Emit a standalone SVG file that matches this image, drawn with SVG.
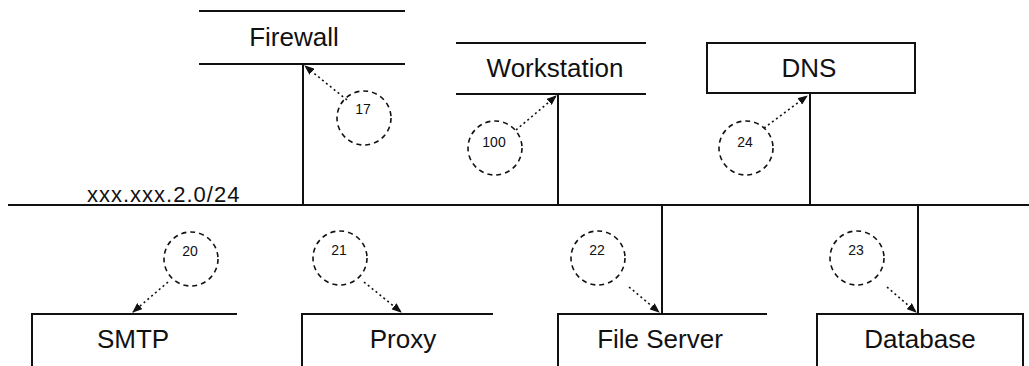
<svg xmlns="http://www.w3.org/2000/svg" width="1029" height="366" viewBox="0 0 1029 366">
<style>
.ln{stroke:#111;stroke-width:2;fill:none}
.lbl{font-family:"Liberation Sans",Arial,sans-serif;font-size:26px;fill:#111;text-anchor:middle}
.num{font-family:"Liberation Sans",Arial,sans-serif;font-size:14px;fill:#111;text-anchor:middle}
.bus{font-family:"Liberation Sans",Arial,sans-serif;font-size:22px;fill:#111;letter-spacing:1px}
.circ{stroke:#111;stroke-width:1.6;fill:none;stroke-dasharray:5,4}
.arr{stroke:#111;stroke-width:1.6;fill:none;stroke-dasharray:2,3;marker-end:url(#ah)}
</style>
<defs>
<marker id="ah" markerWidth="10" markerHeight="8" refX="9" refY="4" orient="auto" markerUnits="userSpaceOnUse">
<path d="M0,0 L10,4 L0,8 Z" fill="#111"/>
</marker>
</defs>
<rect width="1029" height="366" fill="#fff"/>
<g id="connectors">
<line class="ln" x1="8" y1="205" x2="1029" y2="205"/>
<line class="ln" x1="303" y1="64" x2="303" y2="205"/>
<line class="ln" x1="558" y1="94" x2="558" y2="205"/>
<line class="ln" x1="810" y1="93" x2="810" y2="205"/>
<line class="ln" x1="662" y1="205" x2="662" y2="314"/>
<line class="ln" x1="918" y1="205" x2="918" y2="314"/>
<line class="arr" x1="347" y1="100" x2="305" y2="66"/>
<line class="arr" x1="516" y1="130" x2="556" y2="96"/>
<line class="arr" x1="764" y1="128" x2="807" y2="96"/>
<line class="arr" x1="168" y1="282" x2="133" y2="312"/>
<line class="arr" x1="364" y1="282" x2="401" y2="312"/>
<line class="arr" x1="629" y1="287" x2="659" y2="312"/>
<line class="arr" x1="887" y1="287" x2="916" y2="312"/>
</g>
<g id="bus-label"><text class="bus" x="87" y="202">xxx.xxx.2.0/24</text></g>
<g id="firewall">
<line class="ln" x1="199" y1="11" x2="405" y2="11"/>
<line class="ln" x1="199" y1="64" x2="405" y2="64"/>
<text class="lbl" x="294" y="46">Firewall</text>
</g>
<g id="workstation">
<line class="ln" x1="456" y1="43" x2="646" y2="43"/>
<line class="ln" x1="456" y1="94" x2="646" y2="94"/>
<text class="lbl" x="555" y="77">Workstation</text>
</g>
<g id="dns">
<rect class="ln" x="707" y="43" width="208" height="50"/>
<text class="lbl" x="809" y="77">DNS</text>
</g>
<g id="smtp">
<path class="ln" d="M32,366 V314 H237"/>
<text class="lbl" x="133" y="348">SMTP</text>
</g>
<g id="proxy">
<path class="ln" d="M302,366 V314 H493"/>
<text class="lbl" x="403" y="348">Proxy</text>
</g>
<g id="fileserver">
<path class="ln" d="M558,366 V314 H767"/>
<text class="lbl" x="660" y="348">File Server</text>
</g>
<g id="database">
<path class="ln" d="M817,366 V314 H1023 V366"/>
<text class="lbl" x="920" y="348">Database</text>
</g>
<g id="c17"><circle class="circ" cx="364" cy="118" r="27"/><text class="num" x="363" y="114">17</text></g>
<g id="c100"><circle class="circ" cx="495" cy="148" r="27"/><text class="num" x="494" y="147">100</text></g>
<g id="c24"><circle class="circ" cx="746" cy="148" r="27"/><text class="num" x="745" y="147">24</text></g>
<g id="c20"><circle class="circ" cx="191" cy="259" r="27"/><text class="num" x="190" y="256">20</text></g>
<g id="c21"><circle class="circ" cx="340" cy="258" r="27"/><text class="num" x="339" y="255">21</text></g>
<g id="c22"><circle class="circ" cx="598" cy="258" r="27"/><text class="num" x="597" y="255">22</text></g>
<g id="c23"><circle class="circ" cx="857" cy="258" r="27"/><text class="num" x="856" y="255">23</text></g>
</svg>
